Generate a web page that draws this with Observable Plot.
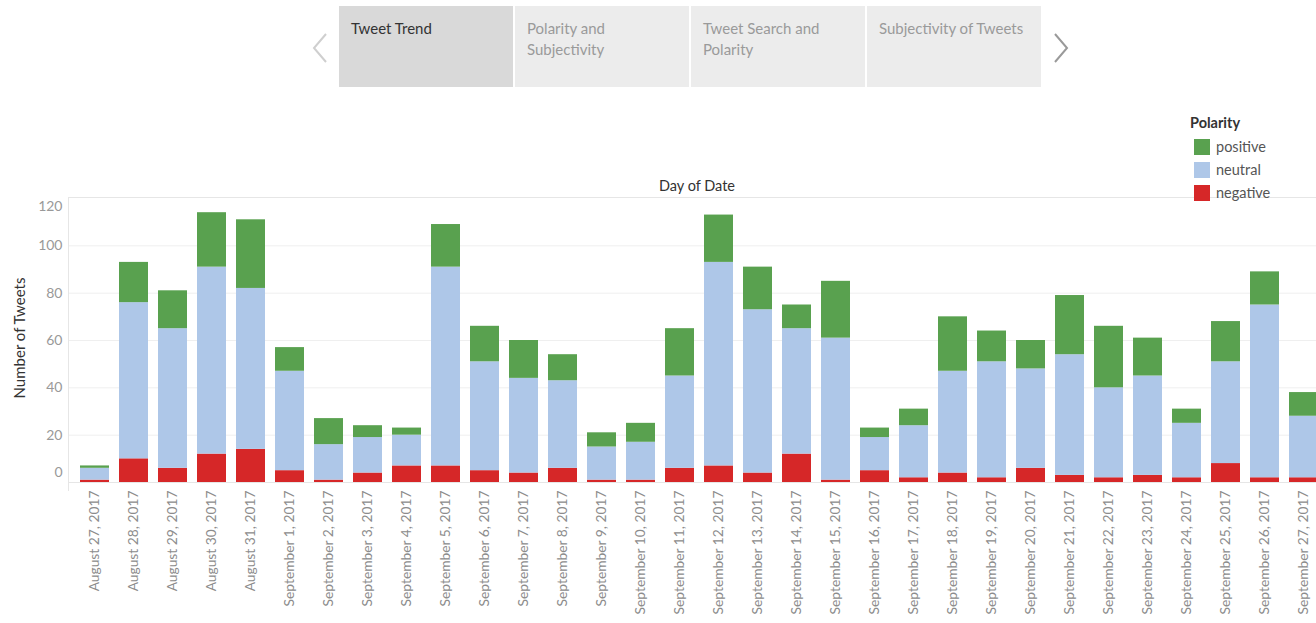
<!DOCTYPE html>
<html>
<head>
<meta charset="utf-8">
<script src="https://cdn.jsdelivr.net/npm/d3@7"></script>
<script src="https://cdn.jsdelivr.net/npm/@observablehq/plot@0.6"></script>
<style>
  html, body { margin: 0; padding: 0; background: #fff; overflow: hidden; }
  body { font-family: Lato, "Open Sans", sans-serif; }
  #wrap { position: relative; width: 1316px; height: 623px; overflow: hidden; }
  #chart { position: absolute; left: 0; top: 0; }
  .tab { position: absolute; top: 6px; width: 174px; height: 81px; background: #ececec; box-sizing: border-box;
         padding: 12px 12px; font-size: 15px; line-height: 21px; color: #9a9a9a; }
  .tab.sel { background: #d9d9d9; color: #333; }
  .arrow { position: absolute; top: 32px; }
  #legend { position: absolute; left: 1190px; top: 113px; font-size: 14.5px; z-index: 2; }
  #legend .title { color: #333; font-weight: 700; height: 22px; line-height: 20px; }
  #legend .item { display: flex; align-items: center; height: 23px; color: #555; }
  #legend .sw { width: 16px; height: 16px; margin: 0 6px 0 4px; }
  .hline { position: absolute; height: 1px; background: #e6e6e6; }
  .vline { position: absolute; width: 1px; background: #e6e6e6; }
  #xtitle { position: absolute; top: 177px; left: 597px; width: 200px; text-align: center; font-size: 14.5px; color: #333; }
  #ytitle { position: absolute; left: 19px; top: 338px; transform: translate(-50%, -50%) rotate(-90deg); white-space: nowrap; font-size: 15px; color: #333; }
</style>
</head>
<body>
<div id="wrap">
  <div id="chart"></div>
  <svg class="arrow" style="left:309px" width="22" height="32"><polyline points="17,2 5,16 17,30" fill="none" stroke="#cfcfcf" stroke-width="2"/></svg>
  <svg class="arrow" style="left:1050px" width="22" height="32"><polyline points="5,2 17,16 5,30" fill="none" stroke="#9a9a9a" stroke-width="2"/></svg>
  <div id="tabs"></div>
  <div class="hline" style="left:68px; top:197px; width:1260px;"></div>
  <div class="vline" style="left:68px; top:197px; height:294px;"></div>
  <div id="xtitle">Day of Date</div>
  <div id="ytitle">Number of Tweets</div>
  <div id="legend"></div>
</div>
<script>
const tabNames = ["Tweet Trend", "Polarity and\nSubjectivity", "Tweet Search and\nPolarity", "Subjectivity of Tweets"];

const dates = [
  "August 27, 2017", "August 28, 2017", "August 29, 2017", "August 30, 2017", "August 31, 2017",
  "September 1, 2017", "September 2, 2017", "September 3, 2017", "September 4, 2017", "September 5, 2017",
  "September 6, 2017", "September 7, 2017", "September 8, 2017", "September 9, 2017", "September 10, 2017",
  "September 11, 2017", "September 12, 2017", "September 13, 2017", "September 14, 2017", "September 15, 2017",
  "September 16, 2017", "September 17, 2017", "September 18, 2017", "September 19, 2017", "September 20, 2017",
  "September 21, 2017", "September 22, 2017", "September 23, 2017", "September 24, 2017", "September 25, 2017",
  "September 26, 2017", "September 27, 2017"
];
const negative = [1, 10, 6, 12, 14, 5, 1, 4, 7, 7, 5, 4, 6, 1, 1, 6, 7, 4, 12, 1, 5, 2, 4, 2, 6, 3, 2, 3, 2, 8, 2, 2];
const neutral  = [5, 66, 59, 79, 68, 42, 15, 15, 13, 84, 46, 40, 37, 14, 16, 39, 86, 69, 53, 60, 14, 22, 43, 49, 42, 51, 38, 42, 23, 43, 73, 26];
const positive = [1, 17, 16, 23, 29, 10, 11, 5, 3, 18, 15, 16, 11, 6, 8, 20, 20, 18, 10, 24, 4, 7, 23, 13, 12, 25, 26, 16, 6, 17, 14, 10];

const polarities = ["positive", "neutral", "negative"];
const polarityColors = ["#59a14f", "#aec7e8", "#d62728"];
const yTicks = [0, 20, 40, 60, 80, 100, 120];

// tabs
const tabsEl = document.getElementById("tabs");
tabNames.forEach((t, i) => {
  const d = document.createElement("div");
  d.className = "tab" + (i === 0 ? " sel" : "");
  d.style.left = (339 + i * 176) + "px";
  d.innerHTML = t.split("\n").join("<br>");
  tabsEl.appendChild(d);
});

// legend
const lg = document.getElementById("legend");
lg.innerHTML = `<div class="title">Polarity</div>` + polarities.map((p, i) =>
  `<div class="item"><div class="sw" style="background:${polarityColors[i]}"></div>${p}</div>`).join("");

// long table
const rows = [];
dates.forEach((d, i) => {
  rows.push({date: d, polarity: "negative", count: negative[i]});
  rows.push({date: d, polarity: "neutral", count: neutral[i]});
  rows.push({date: d, polarity: "positive", count: positive[i]});
});

const chart = Plot.plot({
  width: 1316,
  height: 623,
  marginTop: 198,
  marginBottom: 141,
  marginLeft: 68,
  marginRight: 0,
  style: {fontFamily: "Lato, 'Open Sans', sans-serif", background: "transparent", maxWidth: "none"},
  x: {type: "band", domain: dates, range: [68.8, 1328.6], paddingInner: 0.26, paddingOuter: 0.13, axis: null},
  y: {domain: [0, 120], axis: null},
  color: {domain: polarities, range: polarityColors},
  marks: [
    Plot.gridY(yTicks.slice(1, 6), {stroke: "#efefef", strokeOpacity: 1}),
    Plot.ruleY([0], {stroke: "#e6e6e6"}),
    Plot.barY(rows, {x: "date", y: "count", fill: "polarity", order: ["negative", "neutral", "positive"]}),
    Plot.axisY(yTicks.slice(1, 6), {tickSize: 0, tickPadding: 6, fontSize: 14, fill: "#999", label: null}),
    Plot.axisY([yTicks[0]], {tickSize: 0, tickPadding: 6, fontSize: 14, fill: "#999", dy: -10, label: null}),
    Plot.axisY([yTicks[6]], {tickSize: 0, tickPadding: 6, fontSize: 14, fill: "#999", dy: 8.5, label: null}),
    Plot.axisX({tickRotate: -90, tickSize: 0, tickPadding: 8, fontSize: 13.8, fill: "#8c8c8c", label: null})
  ]
});
document.getElementById("chart").appendChild(chart);
</script>
</body>
</html>
